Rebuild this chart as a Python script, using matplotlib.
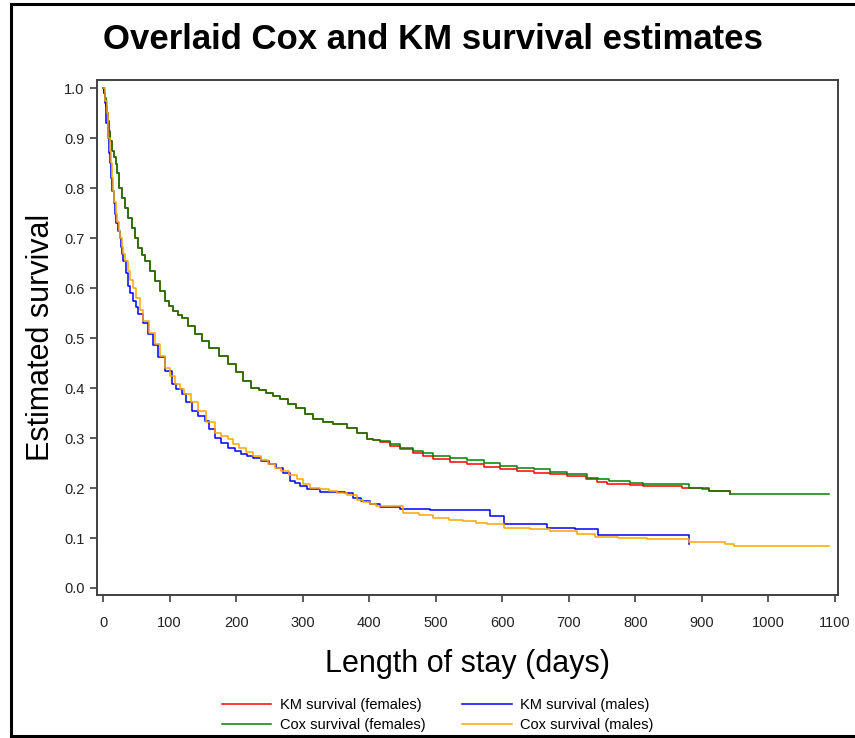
import matplotlib
matplotlib.use("Agg")
import matplotlib.pyplot as plt
from matplotlib.lines import Line2D

# ---- data ----
km_f_t = [0, 2, 3, 4, 5.5, 7, 9, 11, 14, 16, 19, 21, 24, 28, 33, 38, 43, 48, 53, 58, 63, 70, 78,
          85, 93, 99, 105, 112, 118, 128, 138, 149, 160, 174, 188, 200, 211, 223, 234, 245, 255,
          266, 278, 290, 303, 316, 331, 346, 366, 381, 396, 406, 416, 431, 446, 466, 481, 496,
          522, 547, 572, 597, 622, 647, 672, 697, 726, 742, 757, 792, 812, 870, 911, 942]
km_f_s = [1.0, 0.99, 0.98, 0.965, 0.95, 0.935, 0.915, 0.895, 0.875, 0.862, 0.849, 0.83, 0.80,
          0.78, 0.76, 0.74, 0.72, 0.70, 0.68, 0.667, 0.655, 0.635, 0.614, 0.594, 0.575, 0.565,
          0.555, 0.547, 0.54, 0.524, 0.509, 0.494, 0.48, 0.465, 0.449, 0.432, 0.415, 0.401,
          0.396, 0.39, 0.384, 0.378, 0.369, 0.36, 0.349, 0.338, 0.333, 0.328, 0.321, 0.31,
          0.298, 0.296, 0.293, 0.285, 0.278, 0.27, 0.264, 0.258, 0.253, 0.249, 0.243, 0.238,
          0.234, 0.231, 0.228, 0.224, 0.218, 0.213, 0.209, 0.207, 0.204, 0.200, 0.194, 0.188]

cox_f_t = [0, 2, 3, 4, 5.5, 7, 9, 11, 14, 16, 19, 21, 24, 28, 33, 38, 43, 48, 53, 58, 63, 70, 78,
           85, 93, 99, 105, 112, 118, 128, 138, 149, 160, 174, 188, 200, 211, 223, 234, 245, 255,
           266, 278, 290, 303, 316, 331, 346, 366, 381, 396, 406, 416, 431, 446, 466, 481, 496,
           522, 547, 572, 597, 622, 647, 672, 697, 727, 744, 760, 792, 812, 881, 900, 911, 942,
           1091]
cox_f_s = [1.0, 0.99, 0.98, 0.965, 0.95, 0.935, 0.915, 0.895, 0.875, 0.862, 0.849, 0.83, 0.80,
           0.78, 0.76, 0.74, 0.72, 0.70, 0.68, 0.667, 0.655, 0.635, 0.614, 0.594, 0.575, 0.565,
           0.555, 0.547, 0.54, 0.524, 0.509, 0.494, 0.48, 0.465, 0.449, 0.432, 0.415, 0.401,
           0.396, 0.39, 0.384, 0.378, 0.369, 0.36, 0.349, 0.338, 0.333, 0.328, 0.321, 0.31,
           0.298, 0.297, 0.295, 0.288, 0.281, 0.275, 0.27, 0.265, 0.26, 0.256, 0.25, 0.244,
           0.241, 0.238, 0.233, 0.228, 0.221, 0.218, 0.214, 0.211, 0.209, 0.201, 0.198, 0.194,
           0.189, 0.189]

km_m_t = [0, 2, 3, 5, 7, 9, 10.5, 12, 14, 16, 18, 20, 23, 25, 27, 29, 30.5, 34, 38, 41, 45, 49,
          53, 60, 68, 75, 83, 93, 103, 110, 118, 125, 133, 143, 153, 160, 168, 178, 188, 198, 208,
          217, 226, 238, 250, 260, 271, 281, 288, 296, 306, 326, 345, 364, 376, 388, 401, 416,
          446, 491, 581, 602, 667, 709, 744, 881]
km_m_s = [1.0, 0.99, 0.97, 0.93, 0.90, 0.87, 0.85, 0.82, 0.795, 0.77, 0.749, 0.73, 0.715, 0.70,
          0.682, 0.668, 0.655, 0.63, 0.605, 0.59, 0.575, 0.562, 0.549, 0.53, 0.509, 0.486, 0.462,
          0.435, 0.409, 0.399, 0.389, 0.372, 0.355, 0.345, 0.335, 0.318, 0.301, 0.291, 0.281,
          0.274, 0.268, 0.264, 0.26, 0.254, 0.248, 0.24, 0.231, 0.214, 0.21, 0.205, 0.198, 0.193,
          0.192, 0.191, 0.181, 0.175, 0.168, 0.162, 0.159, 0.156, 0.144, 0.129, 0.121, 0.118,
          0.107, 0.088]

cox_m_t = [0, 3, 5.5, 7, 8, 10, 12, 14, 15.5, 17, 19, 21, 24, 26, 28, 30, 33, 37, 40.5, 45.5, 50,
           55, 60.5, 69, 78, 85, 93, 100, 108, 115, 121, 132, 143, 155, 168, 178, 188, 196, 205,
           215, 226, 237, 248, 258, 268, 280, 291, 301, 311, 326, 340, 352, 366, 381, 391, 401,
           411, 451, 475, 496, 520, 541, 560, 577, 602, 642, 672, 712, 739, 774, 817, 881, 935,
           948, 1091]
cox_m_s = [1.0, 0.975, 0.95, 0.925, 0.90, 0.875, 0.85, 0.82, 0.795, 0.772, 0.749, 0.732, 0.715,
           0.70, 0.682, 0.668, 0.655, 0.635, 0.616, 0.600, 0.58, 0.557, 0.535, 0.511, 0.488,
           0.465, 0.441, 0.425, 0.408, 0.398, 0.388, 0.372, 0.355, 0.333, 0.311, 0.305, 0.298,
           0.289, 0.28, 0.272, 0.265, 0.256, 0.248, 0.241, 0.234, 0.226, 0.218, 0.209, 0.201,
           0.199, 0.195, 0.19, 0.186, 0.176, 0.172, 0.168, 0.164, 0.151, 0.146, 0.141, 0.137,
           0.134, 0.131, 0.129, 0.121, 0.118, 0.114, 0.108, 0.102, 0.0996, 0.0975, 0.093, 0.089,
           0.0835, 0.0835]

labels = ["KM survival (females)", "Cox survival (females)",
          "KM survival (males)", "Cox survival (males)"]
colors = ['#FF0000', '#008000', '#0000FF', '#FFA500']
x_ticks = list(range(0, 1101, 100))
y_ticks = [i / 10 for i in range(0, 11)]

plt.rcParams['font.family'] = ['Liberation Sans', 'DejaVu Sans']

fig = plt.figure(figsize=(8.55, 7.38), dpi=100)
ax = fig.add_axes([0.1135, 0.1938, 0.8665, 0.6978])

lw = 1.1
series = [(km_f_t, km_f_s), (cox_f_t, cox_f_s), (km_m_t, km_m_s), (cox_m_t, cox_m_s)]
for (t, s), c, lab in zip(series, colors, labels):
    ax.step(t, s, where='post', color=c, lw=lw, label=lab)

ax.set_xlim(-9, 1104.5)
ax.set_ylim(-0.014, 1.0166)
ax.set_xticks(x_ticks)
ax.set_yticks(y_ticks)
ax.set_yticklabels([f"{v:.1f}" for v in y_ticks])
ax.tick_params(direction='out', length=5, width=1.2, color='#404040',
               labelsize=10.5, labelcolor='#222222', pad=4)
ax.tick_params(axis='x', pad=10)
for sp in ax.spines.values():
    sp.set_color('#404040')
    sp.set_linewidth(1.4)

ax.set_xlabel("Length of stay (days)", fontsize=22, labelpad=14)
ax.set_ylabel("Estimated survival", fontsize=22, labelpad=6)

fig.text(0.506, 0.947, "Overlaid Cox and KM survival estimates", ha='center', va='center',
         fontsize=25, fontweight='bold')

handles = [Line2D([], [], color=c, lw=1.1) for c in colors]
fig.legend(handles, labels, loc='center', bbox_to_anchor=(0.512, 0.031), ncol=2, frameon=False,
           fontsize=10.5, handlelength=3.4, handletextpad=0.6, columnspacing=2.5,
           labelspacing=0.4)

# outer border (left, top, bottom)
for xs, ys in [([11 / 855, 11 / 855], [1 - 4 / 738, 1 - 736 / 738]),
               ([11 / 855, 1.0], [1 - 4 / 738, 1 - 4 / 738]),
               ([11 / 855, 1.0], [1 - 736 / 738, 1 - 736 / 738])]:
    fig.add_artist(Line2D(xs, ys, color='black', lw=2.2, transform=fig.transFigure))

fig.savefig("out.png", dpi=100)
